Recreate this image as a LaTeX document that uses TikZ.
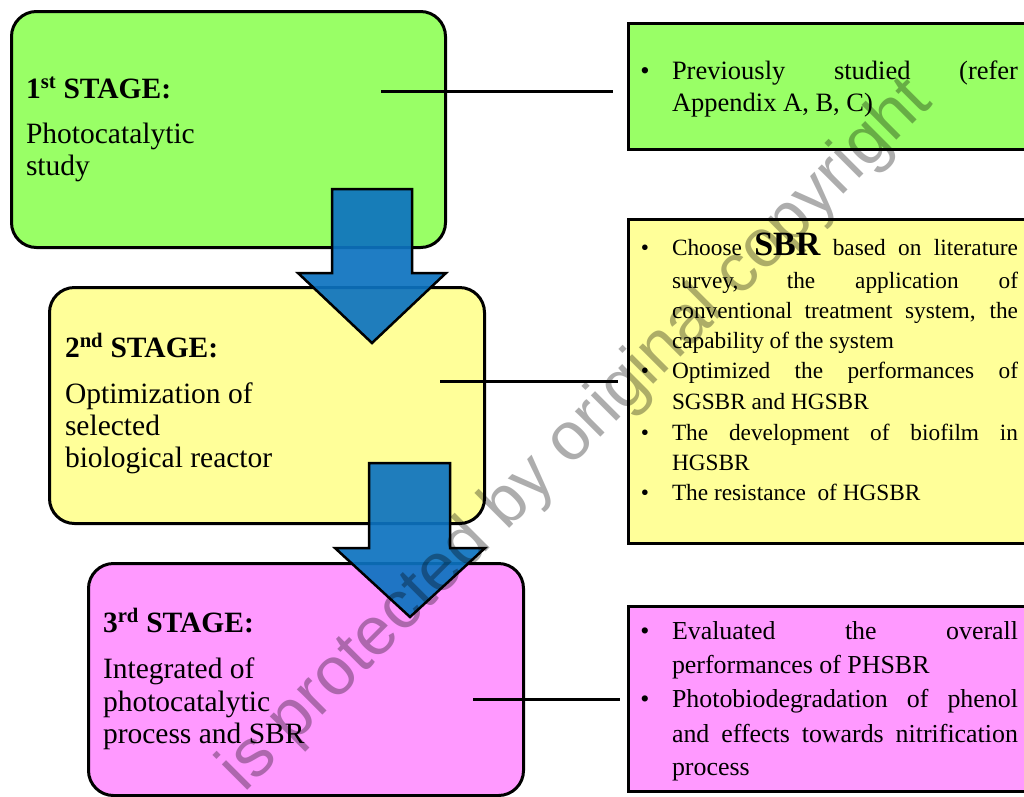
\documentclass[tikz,border=0pt]{standalone}
\usepackage{fontspec}
\setmainfont{Liberation Serif}
\newfontfamily\wmfont{Liberation Sans}
\definecolor{stgreen}{HTML}{99FF66}
\definecolor{styellow}{HTML}{FFFF99}
\definecolor{stpink}{HTML}{FF99FF}
\definecolor{arrowblue}{RGB}{12,114,192}
\newcommand{\leftfont}{\fontsize{29.5}{32}\selectfont}
\newcommand{\rfontA}{\fontsize{26.5}{32}\selectfont}
\newcommand{\rfontB}{\fontsize{23.3}{30.5}\selectfont}
\newcommand{\rfontC}{\fontsize{25.9}{34}\selectfont}
\begin{document}
\begin{tikzpicture}[x=1pt,y=-1pt,
  stagebox/.style={draw=black, line width=3pt, rounded corners=25pt, anchor=north west, inner sep=0pt},
  notebox/.style={draw=black, line width=3pt, anchor=north west, inner sep=0pt},
  link/.style={draw=black, line width=3pt},
  txt/.style={anchor=base west, inner sep=0pt, outer sep=0pt},
  bul/.style={anchor=base, inner sep=0pt, outer sep=0pt},
  flowarrow/.style={fill=arrowblue, fill opacity=0.92, draw=black, line width=2.5pt, line join=miter},
  wmark/.style={rotate=45, text=black, text opacity=0.32, inner sep=0pt}
]
\useasboundingbox (0,0) rectangle (1024,796);
\clip (0,0) rectangle (1024,796);
\fill[white] (0,0) rectangle (1024,796);

% stage boxes
\node[stagebox, fill=stgreen, minimum width=434pt, minimum height=236pt] (s1) at (10,10) {};
\node[stagebox, fill=styellow, minimum width=435pt, minimum height=236pt] (s2) at (48,286) {};
\node[stagebox, fill=stpink, minimum width=435pt, minimum height=232pt] (s3) at (87,562) {};

% note boxes (cut off at the right edge)
\node[notebox, fill=stgreen, minimum width=420pt, minimum height=126pt] (n1) at (627,22) {};
\node[notebox, fill=styellow, minimum width=420pt, minimum height=324pt] (n2) at (627,218) {};
\node[notebox, fill=stpink, minimum width=420pt, minimum height=185pt] (n3) at (627,605) {};

% connectors
\coordinate (l1a) at (381,91);  \coordinate (l1b) at (613,91);
\coordinate (l2a) at (440,381); \coordinate (l2b) at (618,381);
\coordinate (l3a) at (473,699); \coordinate (l3b) at (620,699);
\draw[link] (l1a) -- (l1b);
\draw[link] (l2a) -- (l2b);
\draw[link] (l3a) -- (l3b);

% left texts
\foreach \yy/\tx [count=\i] in {98/{\textbf{1\textsuperscript{st} STAGE:}}, 143/{Photocatalytic}, 175/{study}}
  \node[txt, font=\leftfont] (ta\i) at (26,\yy) {\tx};
\foreach \yy/\tx [count=\i] in {357/{\textbf{2\textsuperscript{nd} STAGE:}}, 403/{Optimization of}, 435/{selected}, 467/{biological reactor}}
  \node[txt, font=\leftfont] (tb\i) at (65,\yy) {\tx};
\foreach \yy/\tx [count=\i] in {632/{\textbf{3\textsuperscript{rd} STAGE:}}, 678/{Integrated of}, 711/{photocatalytic}, 743/{process and SBR}}
  \node[txt, font=\leftfont] (tc\i) at (103,\yy) {\tx};

% right texts
\foreach \yy/\tx [count=\i] in {79/{\makebox[346pt][s]{Previously studied (refer}}, 111/{Appendix A, B, C)}}
  \node[txt, font=\rfontA] (ra\i) at (672,\yy) {\tx};
\node[bul, font=\rfontA] (rab1) at (645,79) {\textbullet};

\foreach \yy/\tx [count=\i] in {
  255/{\makebox[346pt][s]{Choose {\fontsize{34}{34}\selectfont\bfseries SBR} based on literature}},
  288/{\makebox[346pt][s]{survey, the application of}},
  318/{\makebox[346pt][s]{conventional treatment system, the}},
  348/{capability of the system},
  378/{\makebox[346pt][s]{Optimized the performances of}},
  409/{SGSBR and HGSBR},
  440/{\makebox[346pt][s]{The development of biofilm in}},
  470/{HGSBR},
  500/{The resistance\ \ of HGSBR}}
  \node[txt, font=\rfontB] (rb\i) at (672,\yy) {\tx};
\foreach \yy [count=\i] in {255,378,440,500}
  \node[bul, font=\rfontB] (rbb\i) at (645,\yy) {\textbullet};

\foreach \yy/\tx [count=\i] in {
  639/{\makebox[346pt][s]{Evaluated the overall}},
  673/{performances of PHSBR},
  707/{\makebox[346pt][s]{Photobiodegradation of phenol}},
  742/{\makebox[346pt][s]{and effects towards nitrification}},
  775/{process}}
  \node[txt, font=\rfontC] (rc\i) at (672,\yy) {\tx};
\foreach \yy [count=\i] in {639,707}
  \node[bul, font=\rfontC] (rcb\i) at (645,\yy) {\textbullet};

% flow arrows
\draw[flowarrow] (332,189) -- (412,189) -- (412,273) -- (446,273) -- (372,343) -- (298,273) -- (332,273) -- cycle;
\draw[flowarrow] (369,463) -- (450,463) -- (450,548) -- (485,548) -- (410,617) -- (335,548) -- (369,548) -- cycle;

% watermark
\node[wmark, font=\wmfont\fontsize{68}{68}\selectfont] (wm) at (577,436) {is protected by original copyright};
\end{tikzpicture}
\end{document}
